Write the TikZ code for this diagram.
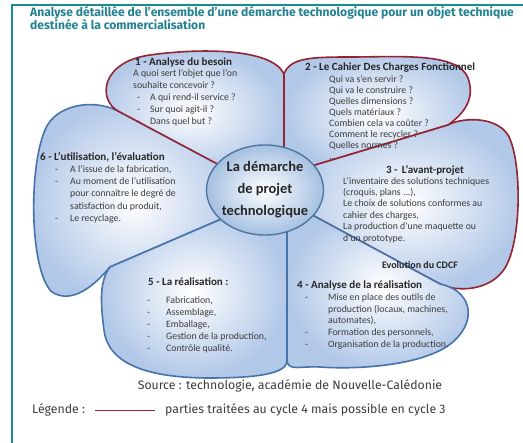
\documentclass[tikz,border=0pt]{standalone}
\usepackage{fontspec}
\setmainfont{Carlito}
\newfontfamily\dinfont{Fira Sans}
\usetikzlibrary{positioning,shapes.geometric}
\definecolor{tealcadre}{RGB}{25,140,140}
\definecolor{tealtitre}{RGB}{35,130,145}
\definecolor{rougepetale}{RGB}{150,35,50}
\definecolor{bleupetale}{RGB}{70,115,170}
\definecolor{fondpetale}{RGB}{178,200,232}
\definecolor{fondcoeur}{RGB}{165,192,225}
\definecolor{gristexte}{RGB}{60,60,60}
\newcommand{\tiret}[1][13pt]{\makebox[#1][l]{-}}

\begin{document}
\begin{tikzpicture}[
      x=1pt, y=-1pt,
      petale/.style={line width=1.6pt, line join=round, inner color=white, outer color=fondpetale},
      rouge/.style={petale, draw=rougepetale},
      bleu/.style={petale, draw=bleupetale},
      coeur/.style={ellipse, draw=bleupetale!80!gray, line width=1.4pt, minimum width=117pt, minimum height=90pt,
        inner sep=-3pt, inner color=white, outer color=fondcoeur, align=center, text=black!85,
        font={\fontsize{14.5}{22}\selectfont\bfseries}},
      titrepetale/.style={inner sep=0, text=black!85, font={\fontsize{11}{12}\selectfont\bfseries}},
      corps/.style={inner sep=0, align=left, text=gristexte, font={\fontsize{9.8}{11.4}\selectfont}},
      titre/.style={inner sep=0, align=left, text=tealtitre, font={\dinfont\bfseries\fontsize{12.1}{13.5}\selectfont}},
      pied/.style={inner sep=0, text=gristexte, font={\dinfont\fontsize{12.3}{14}\selectfont}},
      cadre/.style={draw=tealcadre, line width=1.5pt},
      legtrait/.style={draw=rougepetale, line width=1.6pt}
  ]
  \useasboundingbox[fill=white] (0,0) rectangle (523,443);
  \draw[cadre] (12,443) -- (12,5) -- (530,5);
  \node[titre, anchor=north west] (titre) at (30,6)
    {Analyse détaillée de l’ensemble d’une démarche technologique pour un objet technique\\destinée à la commercialisation};

  \coordinate (c) at (265,190);
  \coordinate (b12) at (284,175);
  \coordinate (b23) at (292,172);
  \coordinate (b34) at (290,203);
  \coordinate (b45) at (287,205);
  \coordinate (b56) at (240,211);
  \coordinate (b61) at (240,176);
  \coordinate (n12) at (284,74);
  \coordinate (n23) at (448,125);
  \coordinate (n34) at (440,284);
  \coordinate (n45) at (287,362);
  \coordinate (n56) at (110,267);
  \coordinate (n61) at (118,111);

  \draw[bleu] (b56) -- (n56) .. controls (95,285) and (72,305) .. (52,292)
    .. controls (30,272) and (28,170) .. (45,130) .. controls (55,105) and (92,98) .. (n61) -- (b61) -- cycle;
  \draw[bleu] (b45) -- (n45) .. controls (285,373) and (260,378) .. (210,378)
    .. controls (150,378) and (108,365) .. (104,330) .. controls (100,300) and (100,280) .. (n56) -- (b56) -- cycle;
  \draw[rouge] (b61) -- (n61) .. controls (98,100) and (100,62) .. (150,55)
    .. controls (200,48) and (272,48) .. (n12) -- (b12) -- cycle;
  \draw[rouge] (b12) -- (n12) .. controls (290,58) and (310,57) .. (350,57)
    .. controls (400,57) and (458,52) .. (468,78) .. controls (476,100) and (462,115) .. (n23) -- (b23) -- cycle;
  \draw[rouge] (b23) -- (n23) .. controls (460,118) and (495,115) .. (508,135)
    .. controls (522,160) and (522,240) .. (505,268) .. controls (490,292) and (455,292) .. (n34) -- (b34) -- cycle;
  \draw[bleu] (b34) -- (n34) .. controls (470,290) and (478,318) .. (455,340)
    .. controls (430,365) and (360,370) .. (320,367) .. controls (300,366) and (290,371) .. (n45) -- (b45) -- cycle;

  \node[coeur] (demarche) at (c) {La démarche\\de projet\\technologique};

  \node[titrepetale, anchor=base west] (besoin-t) at (135,66) {1 - Analyse du besoin};
  \node[corps, below right=3.5pt and -2pt of besoin-t.base west, font={\fontsize{9.8}{12}\selectfont}] (besoin)
    {A quoi sert l’objet que l’on\\souhaite concevoir~?\\
     \hspace*{4pt}\tiret A qui rend-il service~?\\
     \hspace*{4pt}\tiret Sur quoi agit-il~?\\
     \hspace*{4pt}\tiret Dans quel but~?};

  \node[titrepetale, anchor=base west] (cdcf-t) at (305,71) {2 - Le Cahier Des Charges Fonctionnel};
  \node[corps, below right=4pt and 24pt of cdcf-t.base west, font={\fontsize{9.8}{11.1}\selectfont}] (cdcf)
    {Qui va s’en servir~?\\Qui va le construire~?\\Quelles dimensions~?\\Quels matériaux~?\\
     Combien cela va coûter~?\\Comment le recycler~?\\Quelles normes~?\\...};

  \node[titrepetale, anchor=base] (avant-t) at (425,174) {3 -\, L’avant-projet};
  \node[corps, anchor=north west] (avant) at (343,177)
    {L’inventaire des solutions techniques\\(croquis, plans ...),\\Le choix de solutions conformes au\\
     cahier des charges,\\La production d’une maquette ou\\d’un prototype.};
  \node[titrepetale, anchor=base, font={\fontsize{10}{12}\selectfont\bfseries}] (evolution) at (420,269) {Evolution du CDCF};

  \node[titrepetale, anchor=base west] (analyse-t) at (297,289) {4 - Analyse de la réalisation};
  \node[corps, below right=4.5pt and 8pt of analyse-t.base west, font={\fontsize{9.8}{11.7}\selectfont}] (analyse)
    {\tiret[23pt]Mise en place des outils de\\
     \hspace*{23pt}production (locaux, machines,\\
     \hspace*{23pt}automates),\\
     \tiret[23pt]Formation des personnels,\\
     \tiret[23pt]Organisation de la production.};

  \node[titrepetale, anchor=base west] (realisation-t) at (148,286) {5 - La réalisation :};
  \node[corps, below right=10pt and -1pt of realisation-t.base west, font={\fontsize{9.8}{12}\selectfont}] (realisation)
    {\tiret[19pt]Fabrication,\\\tiret[19pt]Assemblage,\\\tiret[19pt]Emballage,\\
     \tiret[19pt]Gestion de la production,\\\tiret[19pt]Contrôle qualité.};

  \node[titrepetale, anchor=base west] (utilisation-t) at (40,161) {6 - L’utilisation, l’évaluation};
  \node[corps, below right=4pt and 15pt of utilisation-t.base west, font={\fontsize{9.8}{12.4}\selectfont}] (utilisation)
    {\tiret[15pt]A l’issue de la fabrication,\\
     \tiret[15pt]Au moment de l’utilisation\\
     \hspace*{15pt}pour connaître le degré de\\
     \hspace*{15pt}satisfaction du produit,\\
     \tiret[15pt]Le recyclage.};

  \node[pied] (source) at (290,386) {Source : technologie, académie de Nouvelle-Calédonie};
  \node[pied, anchor=base west] (legende) at (32,414) {Légende :};
  \node[pied, anchor=base west] (parties) at (165,414) {parties traitées au cycle 4 mais possible en cycle 3};
  \draw[legtrait] ([xshift=10pt]legende.east) -- ([xshift=-10pt]parties.west);
\end{tikzpicture}
\end{document}
